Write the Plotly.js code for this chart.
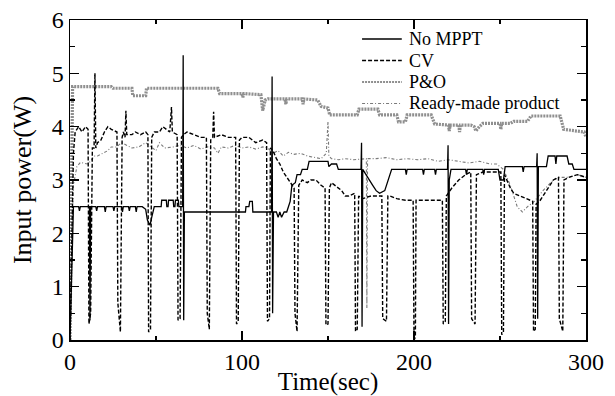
<!DOCTYPE html>
<html>
<head>
<meta charset="utf-8">
<script src="https://cdn.plot.ly/plotly-3.0.1.min.js"></script>
<style>html,body{margin:0;padding:0;background:#fff;}#chart{width:615px;height:396px;}</style>
</head>
<body>
<div id="chart"></div>
<script>
// ---- data ----
const seriesNames = ["No MPPT", "CV", "P&O", "Ready-made product"];

const noMpptTime = [0,2,5,5.5,6,10,11.3,11.6,12,15,15.5,16,20,20.5,21,25,25.5,26,30,30.5,31,34,34.5,35,38,38.5,39,42,44,45,46.5,47.5,49,53,53.3,56,56.3,57,57.3,60,60.3,61,61.3,63,63.3,65.5,65.8,66.1,66.5,102,102.3,104,104.5,106,106.3,117.2,117.5,117.8,118.3,120,121,122,123,124.5,126,128,129,131,132,134,135,138,139,150,150.5,152,155,156,169.2,169.5,169.8,170.2,172,174,176,178,180,183,185,186,187,195,195.5,196,205,205.5,206,212,212.5,213,219.5,219.8,220.1,220.5,221.5,230,230.5,231,240,240.5,241,249,250,252,253,263,263.5,264,271.3,271.6,271.9,272.3,277,278,282,282.5,283,289,290,292,293,300];
const noMpptPower = [0,2.5,2.5,2.42,2.5,2.5,2.5,0.37,2.5,2.5,2.42,2.5,2.5,2.4,2.5,2.5,2.42,2.5,2.5,2.4,2.5,2.5,2.42,2.5,2.5,2.4,2.5,2.5,2.45,2.25,2.15,2.3,2.5,2.5,2.62,2.62,2.5,2.5,2.62,2.62,2.5,2.5,2.62,2.62,2.5,2.5,5.34,0.37,2.4,2.4,2.5,2.5,2.6,2.6,2.4,2.4,4.94,0.5,2.4,2.4,2.3,2.4,2.3,2.4,2.4,2.6,2.9,2.95,3.1,3.1,3.2,3.2,3.35,3.35,3.25,3.3,3.3,3.2,3.2,3.7,0.25,3.2,3.1,3.0,2.9,2.8,2.75,2.8,3.0,3.1,3.2,3.2,3.1,3.2,3.2,3.1,3.2,3.2,3.1,3.2,3.2,3.65,0.3,3.0,3.2,3.2,3.1,3.2,3.2,3.1,3.2,3.2,3.0,3.0,3.25,3.25,3.15,3.25,3.25,3.5,0.4,3.25,3.25,3.45,3.45,3.3,3.45,3.45,3.3,3.3,3.2,3.2];

const cvTime = [0,1,2,3,5,7,9,10.5,11,12,13,14,14.5,15,16,18,20,22,24,27.3,27.8,29.3,30.3,31,32,32.5,33,36,38,41,44,45.3,45.7,46.8,47.5,49,52,54,56,58,59,59.5,62.3,62.8,64,64.8,66,68,72,76,79.3,79.8,81,81.8,83,83.5,84,88,92,96.3,96.8,97.8,98.5,100,104,108,112,114.3,114.8,116,116.5,118,120,122,124,126,128,130.3,130.8,132,133,135,138,140,143,146,148.3,148.8,150,150.8,152,154,156,158,160,162,165.5,166,167,167.8,170,175,181.3,181.8,184,184.8,186,190,195,199.5,200,200.8,201.2,205,210,216.5,217,218.2,218.8,222,226,230,233,233.5,235.5,236.3,240,245,250.5,251,252,252.6,254,256,258,262,266,269,269.5,270.5,271,273,276,279,281,284,284.5,286.5,287.2,290,295,300];
const cvPower = [0,1.5,3.5,3.9,4.0,3.9,4.0,3.95,0.3,0.5,3.6,3.6,5.0,3.6,3.7,3.75,3.9,4.0,3.95,3.9,0.7,0.15,3.8,3.9,3.8,4.3,3.85,3.85,3.9,3.85,3.9,3.85,0.15,0.2,3.8,3.9,3.9,4.0,3.95,3.9,4.37,3.9,3.85,0.37,0.4,3.8,3.85,3.9,3.85,3.8,3.8,0.5,0.2,3.75,3.8,4.28,3.8,3.85,3.8,3.8,0.3,0.35,3.75,3.8,3.8,3.7,3.75,3.7,0.35,0.4,3.6,3.55,3.4,3.3,3.15,3.05,2.95,2.85,0.5,0.16,2.9,3.0,2.95,3.0,3.0,2.9,2.85,0.28,0.3,2.85,2.95,2.9,2.85,2.8,2.7,2.7,2.75,0.16,0.2,2.7,2.65,2.7,2.7,0.4,0.35,2.7,2.7,2.65,2.62,2.62,0.0,0.05,2.62,2.62,2.62,2.62,0.3,0.35,2.7,2.85,3.0,3.1,3.15,0.4,0.3,3.1,3.15,3.15,3.15,0.1,0.15,3.1,3.0,2.85,2.75,2.7,2.65,2.6,0.16,0.2,2.55,2.6,2.75,2.9,3.0,3.05,0.4,0.16,3.0,3.05,3.1,3.05];

const poTime = [0,1.5,24,25,36,36.5,44,44.5,86,87,100,100.5,101,111,112,113.5,115,125,125.5,126,135,135.5,136,144,146,150,151,167,168,179,180,190,191,195,196,210,212,220,220.5,221,226,226.5,227,233,235,236,238,240,250,250.5,251,256,258,266,268,285,287,299,300];
const poPower = [0,4.75,4.75,4.72,4.72,4.58,4.58,4.72,4.72,4.62,4.62,4.55,4.62,4.6,4.3,4.5,4.52,4.52,4.42,4.52,4.52,4.42,4.52,4.5,4.38,4.35,4.22,4.22,4.33,4.33,4.22,4.22,4.09,4.09,4.22,4.22,4.05,4.03,3.92,4.03,4.03,3.9,4.03,4.03,4.0,3.92,4.0,4.06,4.06,3.95,4.06,4.06,4.1,4.1,4.2,4.2,3.95,3.9,3.8];

const readyTime = [0,1,2,4,6,10,12,14,16,19,22,24,27,30,33,36,40,44,48,50,52,55,60,64,68,72,76,80,84,86,88,92,96,100,104,108,112,115,118,121,124,127,130,134,138,142,146,149,150,150.5,152,156,160,165,170,172.3,172.6,173,178,184,190,196,202,208,214,220,226,232,238,244,248,252,256,260,263,266,270,275,281,285,290,295,300];
const readyPower = [0,2.0,2.9,3.25,3.33,3.3,3.35,3.45,3.45,3.5,3.55,3.62,3.62,3.7,3.65,3.6,3.62,3.7,3.6,3.55,3.7,3.6,3.62,3.65,3.6,3.65,3.58,3.62,3.6,3.5,3.62,3.6,3.65,3.6,3.62,3.58,3.62,3.6,3.5,3.55,3.45,3.52,3.48,3.5,3.45,3.42,3.4,3.5,4.1,3.45,3.4,3.38,3.4,3.38,3.4,3.4,0.6,3.4,3.4,3.42,3.38,3.4,3.38,3.4,3.35,3.38,3.35,3.32,3.35,3.3,3.3,3.2,2.9,2.5,2.4,2.5,2.6,2.8,3.0,3.05,3.05,3.1,3.05];

const xTickVals = [0, 100, 200, 300];
const yTickVals = [0, 1, 2, 3, 4, 5, 6];

// ---- styles ----
const FONT = "Liberation Serif";
const lineStyles = [
  {color: "#000000", width: 1.3, dash: "solid"},
  {color: "#000000", width: 1.4, dash: "4px,2px"},
  {color: "#8f8f8f", width: 3.2, dash: "2px,1px"},
  {color: "#7a7a7a", width: 1.1, dash: "3px,2px,1px,2px"}
];
const seriesX = [noMpptTime, cvTime, poTime, readyTime];
const seriesY = [noMpptPower, cvPower, poPower, readyPower];

// draw order: P&O and ready-made underneath, then CV, then No MPPT
const order = [2, 3, 1, 0];
const traces = order.map(i => ({
  type: "scatter", mode: "lines",
  x: seriesX[i], y: seriesY[i], name: seriesNames[i],
  line: Object.assign({}, lineStyles[i]),
  showlegend: false, hoverinfo: "skip"
}));

// manual legend (key lines + labels) in paper coordinates
const legX0 = 0.566, legX1 = 0.643, legTextX = 0.655;
const legRows = [0.9406, 0.8734, 0.8063, 0.7391];
const shapes = seriesNames.map((n, i) => ({
  type: "line", xref: "paper", yref: "paper",
  x0: legX0, x1: legX1, y0: legRows[i], y1: legRows[i],
  line: {color: lineStyles[i].color, width: i === 2 ? 2 : lineStyles[i].width, dash: lineStyles[i].dash}
}));
const annotations = seriesNames.map((n, i) => ({
  xref: "paper", yref: "paper", x: legTextX, y: legRows[i],
  xanchor: "left", yanchor: "middle", text: n, showarrow: false,
  borderpad: 0,
  font: {family: FONT, size: 18, color: "#000"}
}));

const axisCommon = {
  showline: true, linecolor: "#000", linewidth: 1.5, mirror: "ticks",
  ticks: "inside", tickcolor: "#000", tickwidth: 1.2,
  showgrid: false, zeroline: false,
  tickfont: {family: FONT, size: 24, color: "#000"}
};

const layout = {
  width: 615, height: 396,
  margin: {l: 70, r: 29, t: 20, b: 56},
  paper_bgcolor: "#fff", plot_bgcolor: "#fff",
  font: {family: FONT, color: "#000"},
  showlegend: false,
  xaxis: Object.assign({}, axisCommon, {
    range: [0, 300], tickmode: "array", tickvals: xTickVals, ticklen: 9,
    minor: {dtick: 50, tick0: 0, ticklen: 4, ticks: "inside", tickcolor: "#000", tickwidth: 1.2},
    title: {text: "Time(sec)", font: {family: FONT, size: 25, color: "#000", weight: "normal"}, standoff: 2}
  }),
  yaxis: Object.assign({}, axisCommon, {
    range: [0, 6], tickmode: "array", tickvals: yTickVals, ticklen: 9,
    minor: {dtick: 0.5, tick0: 0, ticklen: 5, ticks: "inside", tickcolor: "#000", tickwidth: 1.2},
    title: {text: "Input power(W)", font: {family: FONT, size: 26, color: "#000", weight: "normal"}, standoff: 12}
  }),
  shapes: shapes,
  annotations: annotations
};

Plotly.newPlot("chart", traces, layout, {staticPlot: true, displayModeBar: false});
</script>
</body>
</html>
